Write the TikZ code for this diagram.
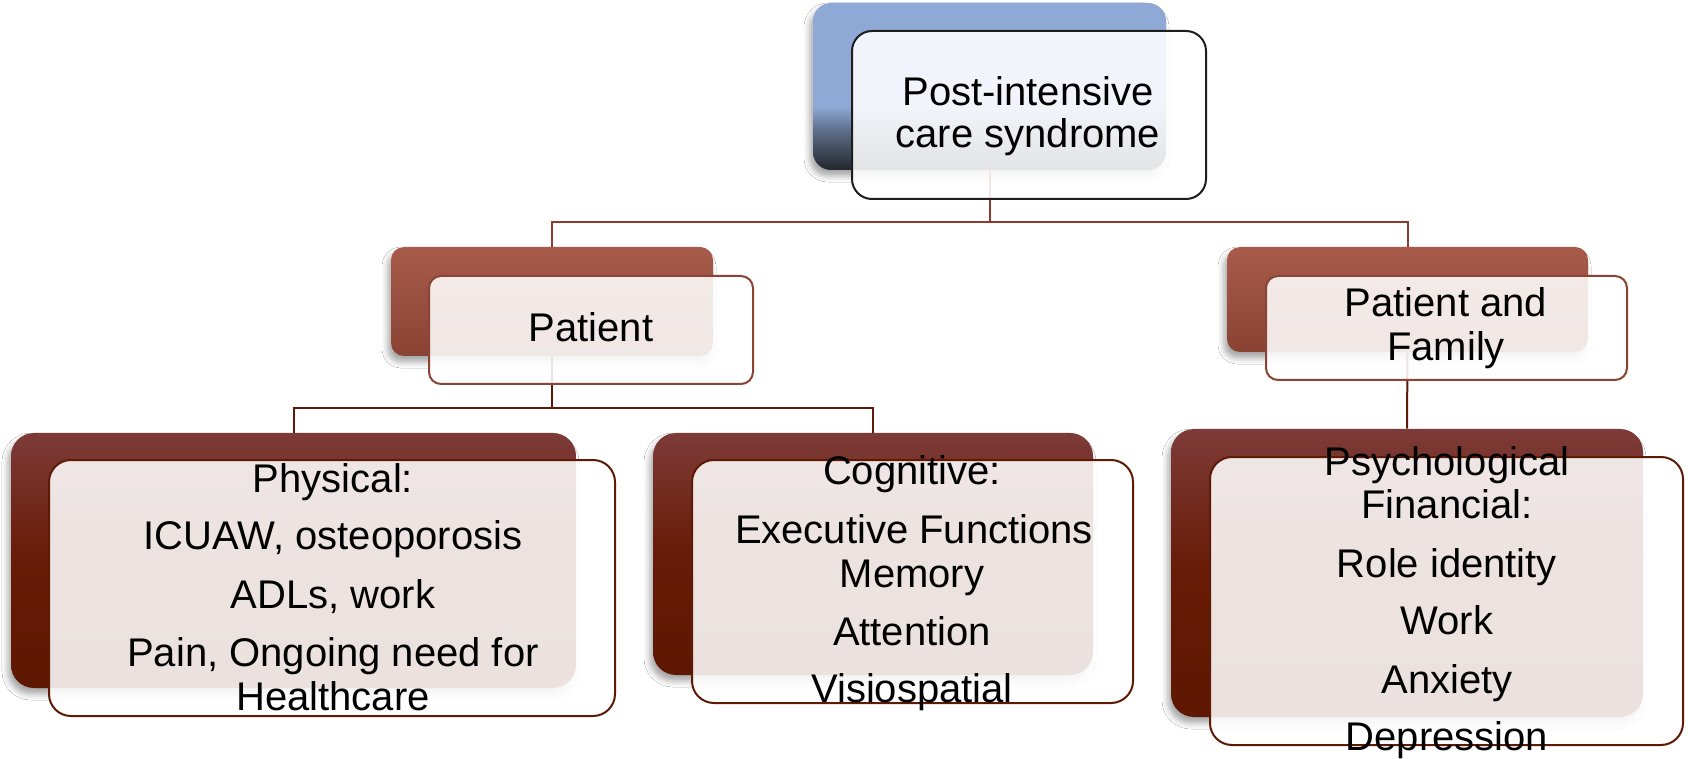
\documentclass[tikz,border=0pt]{standalone}
\usepackage{fontspec}
\setmainfont{Liberation Sans}
\usetikzlibrary{fit,shadows.blur}

\definecolor{tbBlue}{HTML}{8FA9D6}
\definecolor{tbMid}{HTML}{5E6F8C}
\definecolor{tbDark}{HTML}{23262D}
\definecolor{pTop}{HTML}{A85B4B}
\definecolor{pBot}{HTML}{894333}
\definecolor{lTop}{HTML}{7D3B38}
\definecolor{lMid}{HTML}{681B06}
\definecolor{lBot}{HTML}{5E1700}
\definecolor{lineA}{HTML}{8E3B2B}
\definecolor{lineB}{HTML}{5E1A08}
\definecolor{edgeP}{HTML}{8A4434}
\definecolor{edgeL}{HTML}{5E1A05}
\definecolor{edgeT}{HTML}{1E1E1E}

\pgfdeclareverticalshading{topshade}{100bp}{color(0bp)=(tbDark); color(25bp)=(tbDark); color(37bp)=(tbMid); color(44bp)=(tbBlue); color(100bp)=(tbBlue)}
\pgfdeclareverticalshading{lowshade}{100bp}{color(0bp)=(lBot); color(25bp)=(lBot); color(50bp)=(lMid); color(75bp)=(lTop); color(100bp)=(lTop)}

\tikzset{
  backbox/.style={inner sep=0pt, draw=none, rounded corners=#1,
    blur shadow={shadow xshift=-1.5pt, shadow yshift=-3pt, shadow blur radius=3pt, shadow opacity=35}},
  frontbox/.style={inner sep=0pt, fill=white, fill opacity=0.88, line width=1pt, rounded corners=#1},
  conA/.style={draw=lineA, line width=1pt},
  conB/.style={draw=lineB, line width=1pt},
  txt/.style={font=\fontsize{20}{24}\selectfont, inner sep=0pt, anchor=base, text=black}
}

\begin{document}
\begin{tikzpicture}[x=0.5pt,y=-0.5pt]
\useasboundingbox (0,0) rectangle (1688,759);
\fill[white] (0,0) rectangle (1688,759);

% junction coordinates
\coordinate (j0) at (990,222);
\coordinate (j1) at (552,408);

% back boxes
\node[backbox=9pt, shading=topshade, fit={(813,3) (1166,170)}] (b0) {};
\node[backbox=6.5pt, top color=pTop, bottom color=pBot, fit={(391,247) (713,356)}] (b1) {};
\node[backbox=6.5pt, top color=pTop, bottom color=pBot, fit={(1227,247) (1588,352)}] (b2) {};
\node[backbox=11.5pt, shading=lowshade, fit={(11,433) (576,688)}] (b3) {};
\node[backbox=11.5pt, shading=lowshade, fit={(653,433) (1093,675)}] (b4) {};
\node[backbox=11.5pt, shading=lowshade, fit={(1171,429) (1643,717)}] (b5) {};

% connectors (behind the front boxes)
\begin{scope}[on background layer/.style={}]
\draw[conA] (b0.south) -- (b0.south |- j0);
\draw[conA] (b1.north) |- (j0) -| (b2.north);
\draw[conB] (b1.south) -- (j1);
\draw[conB] (b3.north) |- (j1) -| (b4.north);
\draw[conB] (b2.south) -- (b5.north);
\end{scope}

% front boxes
\node[frontbox=10pt, draw=edgeT, fit={(852,31) (1206,199)}] (f0) {};
\node[frontbox=6pt, draw=edgeP, fit={(429,276) (753,384)}] (f1) {};
\node[frontbox=6pt, draw=edgeP, fit={(1266,276) (1627,380)}] (f2) {};
\node[frontbox=11pt, draw=edgeL, fit={(49,460) (615,716)}] (f3) {};
\node[frontbox=11pt, draw=edgeL, fit={(692,460) (1133,703)}] (f4) {};
\node[frontbox=11pt, draw=edgeL, fit={(1210,457) (1683,745)}] (f5) {};

% texts
\node[txt] (t0a) at (1028,106) {Post-intensive};
\node[txt] (t0b) at (1028,148) {care syndrome};
\node[txt] (t1) at (591,342) {Patient};
\node[txt] (t2a) at (1446,317) {Patient and};
\node[txt] (t2b) at (1446,361) {Family};

\node[txt] (t3a) at (333,492) {Physical:};
\node[txt] (t3b) at (333,549) {ICUAW, osteoporosis};
\node[txt] (t3c) at (333,608) {ADLs, work};
\node[txt] (t3d) at (333,666) {Pain, Ongoing need for};
\node[txt] (t3e) at (333,710) {Healthcare};

\node[txt] (t4a) at (912,484) {Cognitive:};
\node[txt] (t4b) at (914,543) {Executive Functions};
\node[txt] (t4c) at (912,587) {Memory};
\node[txt] (t4d) at (912,645) {Attention};
\node[txt] (t4e) at (912,702) {Visiospatial};

\node[txt] (t5a) at (1447,475) {Psychological};
\node[txt] (t5b) at (1447,518) {Financial:};
\node[txt] (t5c) at (1447,577) {Role identity};
\node[txt] (t5d) at (1447,634) {Work};
\node[txt] (t5e) at (1447,693) {Anxiety};
\node[txt] (t5f) at (1447,750) {Depression};
\end{tikzpicture}
\end{document}
